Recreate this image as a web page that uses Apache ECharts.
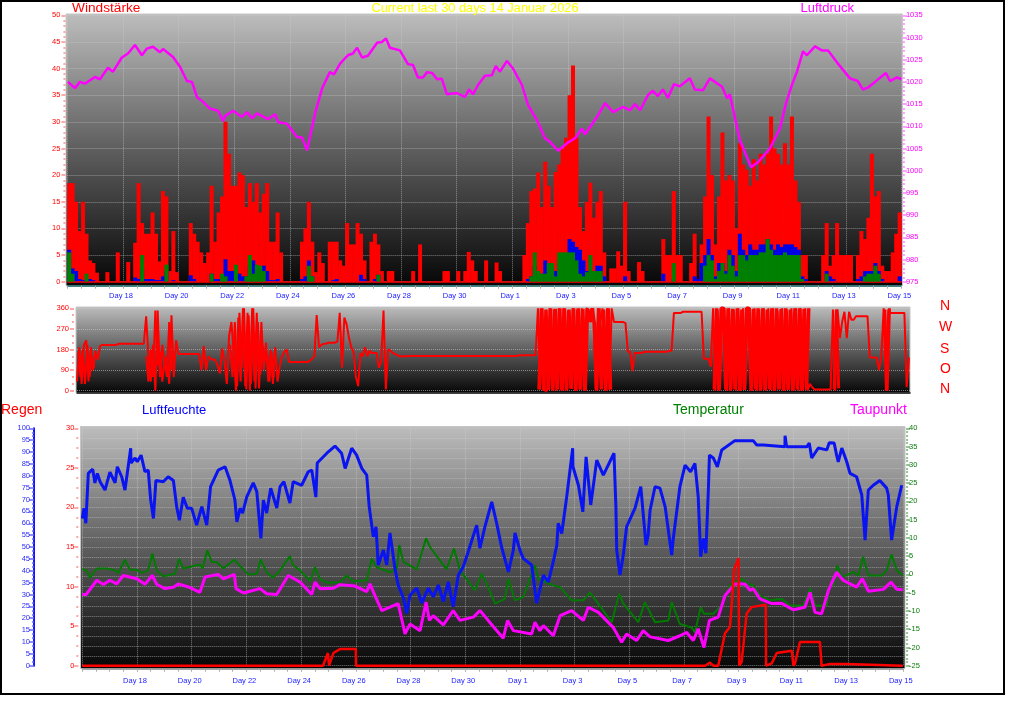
<!DOCTYPE html>
<html>
<head>
<meta charset="utf-8">
<style>html,body{margin:0;padding:0;background:#fff}#c{width:1024px;height:705px}</style>
<script src="https://cdn.jsdelivr.net/npm/echarts@6/dist/echarts.min.js"></script>
</head>
<body>
<div id="c"></div>
<script>
// ---------- tick labels ----------
const dayLabels = ['Day 18','Day 20','Day 22','Day 24','Day 26','Day 28','Day 30','Day 1','Day 3','Day 5','Day 7','Day 9','Day 11','Day 13','Day 15'];
const compassLabels = ['N','W','S','O','N'];

// ---------- wind, 8 readings per day ----------
const windGust = [
18.5,18.5,15,9.5,15,9,4,3.5,
1.7,0,0,1.8,0,0,5.5,0,
0,3.7,0,7.3,18.5,11,9,9,
13,9,3.8,17,16,2,9.5,1.8,
0,0,0,11,9,7.5,5.5,3.5,
5.5,18,7.5,13,16,30,24,18,
18,20.5,20,14,18.5,15,18.5,13,
16.5,18.5,7.5,7.5,13,5.5,0,0,
0,0,0,7.5,10,15,7.5,1.8,
5.5,3.5,0,7.5,7.5,7.5,4,3,
11,7,7,11,9,4,0,7.5,
9,7,2,0,2,2,0,0,
0,0,0,2,0,7,0,0,
0,0,0,0,2,2,0,0,
2,0,2,5.6,4,2,0,0,
4,0,0,3.6,2,0,0,0,
0,0,0,5,11,17,17.5,20.5,
14,22.5,18,14,20.6,22,25,27,
35,40.6,27,14,9.5,15,18.6,12,
15,17,5.5,0,2.5,2.5,5.7,3,
15,2,0,0,3.7,2,0,0,
0,0,0,8,5,5,17,5,
5,0,0,3.5,9,0,7,16,
31,20,7,16,28,19,20,19,
10,26,22,21,18,23,19,24,
22,24,31,25,24,22,26,22,
31,19,15,5,5,0,0,0,
0,5,11,3,5,11,5,5,
5,5,0,5,9.5,8,12,24,
16,17,3,2,2,5.5,9,13];
const windAvg = [
6,2.5,2,.5,.3,.3,.5,.3,
0,0,0,0,0,0,0,0,
0,0,0,.8,.5,2.5,.5,.5,
.5,.3,.3,1,2,0,.3,0,
0,0,0,1.2,.5,0,0,0,
0,1.5,.5,.5,1,4.2,2,2,
1,1.5,1,1,3,4,2.8,1.5,
3,2,.3,.3,.5,0,0,0,
0,0,0,.5,1,4,1,0,
0,0,0,0,.3,.5,0,0,
0,0,0,0,1.3,.5,0,0,
.5,1.3,0,0,0,0,0,0,
0,0,0,0,0,0,0,0,
0,0,0,0,0,0,0,0,
0,0,0,0,0,0,0,0,
0,0,0,0,0,0,0,0,
0,0,0,0,.5,1,3,1.5,
1.5,4,2.5,1.5,2,3.5,2.5,4,
8,7.5,6.5,6,4,2,1,1,
3,3,1,0,0,0,0,0,
1,0,0,0,0,0,0,0,
0,0,0,1.5,0,0,.5,0,
0,0,0,0,1,.5,3.5,5,
8,5,1,3.5,3.5,2,6,5,
2,9,6,5,7,6,6,7,
7,8,7,6,7,6.5,7,7,
7,6.5,6,1,.5,0,0,0,
0,0,2,1,.5,0,0,0,
0,0,0,.5,1,2,2,2,
3.5,2,.5,0,0,0,0,1];
const windMin = [
5.5,1.5,0,0,0,1.5,0,0,
0,0,0,0,0,0,0,0,
0,0,0,0,0,5,0,0,
0,0,0,0,3.2,0,0,0,
0,0,0,0,0,0,0,0,
0,1.5,0,0,1.5,1,0,0,
3.2,0,0,1,5,1.5,3.2,3,
2,0,0,0,0,0,0,0,
0,0,0,0,0,3,1,0,
0,0,0,0,0,0,0,0,
0,0,0,0,0,0,0,0,
0,1.3,0,0,0,0,0,0,
0,0,0,0,0,0,0,0,
0,0,0,0,0,0,0,0,
0,0,0,0,0,0,0,0,
0,0,0,0,0,0,0,0,
0,0,0,0,0,1,5.5,2,
1.5,1.5,3.5,3.5,1,5.5,5.5,5.5,
5.5,5.5,4,1.5,1,1.8,5,2,
2,2,0,0,0,0,0,0,
0,0,0,0,0,0,0,0,
0,0,0,0,0,0,3.5,0,
0,0,0,0,0,0,0,3,
5,4,.5,2,3.5,1.5,5,3,
1,5,5,4,5,5,5,5.5,
5.5,8,6,5,5,5,5.5,5,
5,5,5,.5,0,0,0,0,
0,0,1.5,0,0,0,0,0,
0,0,0,0,0,1,1.5,1.5,
3,1.5,0,0,0,0,0,0];

// ---------- pressure ----------
const pressureDays = [0.02,.27,.45,.63,.99,1.17,1.46,1.64,1.96,2.18,2.43,2.68,2.86,3.08,3.33,3.44,3.80,4.05,4.30,4.48,4.66,4.88,5.13,5.42,5.60,5.67,5.96,6.28,6.46,6.64,6.82,7.21,7.47,7.58,7.90,8.26,8.44,8.62,8.91,9.16,9.44,9.59,9.81,10.09,10.27,10.42,10.60,10.81,11.14,11.32,11.46,11.60,11.96,12.25,12.43,12.61,12.79,12.94,13.12,13.30,13.47,13.65,14.01,14.30,14.45,14.59,14.77,15.02,15.27,15.41,15.56,15.81,16.03,16.35,16.57,16.89,17.18,17.36,17.65,17.97,18.26,18.51,18.62,19.09,19.34,19.63,19.99,20.24,20.42,20.60,20.88,21.06,21.24,21.42,21.60,21.82,22.03,22.39,22.57,22.86,23.11,23.55,23.73,23.83,24.01,24.19,24.59,24.84,25.27,25.63,25.85,26.06,26.24,26.46,26.60,26.89,27.14,27.36,27.68,28.15,28.43,28.61,28.79,29.05,29.44,29.59,29.84,30];
const pressureValues = [1020,1018.6,1020,1019.6,1021.1,1020.6,1023.2,1022.3,1025.5,1026.4,1028.3,1026,1027.5,1027.9,1026.7,1027.4,1025.6,1023.4,1020.2,1020,1016.6,1015.5,1014,1013.5,1011.2,1012.3,1013.5,1012.1,1013.2,1011.8,1012.9,1011.6,1012.7,1010.9,1010.6,1007.6,1007.5,1004.6,1012.9,1018.5,1022.2,1021.7,1024.1,1026,1026.4,1027.7,1025.5,1025.9,1028.8,1029,1029.8,1027.7,1027.1,1024,1023.8,1021,1021,1022.2,1022,1020.6,1020.7,1017.2,1017.5,1016.6,1018.3,1017.2,1019.3,1021.4,1021.5,1023.6,1022.3,1024.7,1023,1019.3,1014.8,1011.4,1007.3,1006.5,1004.5,1006.2,1007.3,1009.5,1008.2,1012.5,1015.2,1013.2,1014.4,1013.6,1015,1013.6,1017,1018,1016.8,1018.3,1016.4,1019.5,1019,1020.8,1018.3,1018.1,1020.8,1018.9,1016.3,1017.2,1012,1006.9,1000.8,1001.9,1005,1009.5,1015.2,1019.3,1022.2,1026.9,1026,1028,1027.1,1027.1,1024.4,1020.8,1020.2,1018.3,1018.7,1020,1022,1020.2,1021,1020.6];

// ---------- wind direction, 12 readings per day ----------
const windDirection = [
40,190,30,200,220,40,190,90,175,135,195,200,
200,200,200,200,200,200,205,205,205,205,205,205,
205,205,205,205,205,205,325,150,40,200,0,350,
60,200,120,150,30,330,60,220,160,160,160,160,
160,160,160,160,160,160,90,195,90,150,140,135,
135,110,75,185,130,30,240,300,160,0,320,40,
360,20,340,0,360,40,340,10,300,90,210,40,
180,30,190,40,110,150,170,180,125,125,125,125,
125,125,125,125,125,130,140,150,330,190,200,205,
205,210,210,210,210,215,340,100,320,290,230,190,
170,60,20,165,150,190,150,175,165,165,165,100,
130,350,5,180,175,165,160,155,150,150,150,150,
152,152,152,152,152,152,152,152,152,152,152,152,
152,152,152,152,152,152,152,152,152,152,152,152,
152,152,152,152,152,152,152,152,152,152,152,152,
152,152,152,152,152,152,152,152,152,152,152,152,
155,155,155,155,155,155,155,155,360,5,360,0,
0,360,8,355,0,360,5,360,0,350,12,360,
0,355,5,360,0,360,355,300,360,5,360,300,
360,0,360,3,360,300,300,300,300,300,295,170,
170,85,165,165,165,165,170,170,170,170,170,170,
170,170,170,170,170,175,175,340,340,340,340,345,
345,345,345,345,345,345,345,345,140,140,140,105,
360,0,355,5,360,360,0,360,5,355,0,360,
0,360,5,360,360,0,360,0,355,5,360,0,
360,3,360,0,350,5,360,0,355,8,360,0,
360,0,360,3,360,0,30,15,5,5,5,5,
5,5,5,5,355,0,355,230,300,345,230,345,
310,310,325,325,325,325,325,325,145,145,145,145,
90,150,360,0,355,340,340,340,340,340,340,340,
15,145];
// the direction swings faster than 12 readings a day in these stretches: extra readings between the regular ones
const directionBursts = [
  {start: 0.04, width: 2, values: [170,60,180,30,200,60,150,100]},
  {start: 2.5, width: 2, values: [150,40,180,60,350,110,170,40,130,60,300,90]},
  {start: 5.54, width: 2, values: [200,60,300,20,340,100,360,5,330,30,360,10,300,70,200,130,160,40,170,60]},
  {start: 16.708, width: 3.5, values: [5,360,0,355,3,360,0,358,6,360,0,360,2,355,8,360,0,360,4,358,0,355,300,360,290,0,360,5,355,0,360,5]},
  {start: 23.042, width: 3.5, values: [5,360,0,360,360,4,360,0,358,6,360,0,355,3,360,360,0,358,5,360,0,360,2,355,6,360,0,360,5,358,0,360,3,355,0,360,6,360,0,358,4,360]},
  {start: 27.375, width: 3, values: [5,355,10]},
  {start: 29.21, width: 3, values: [355,0,360]}
];

// ---------- humidity ----------
const humidityDays = [0,.06,.13,.22,.38,.46,.55,.65,.83,1.01,1.20,1.28,1.44,1.56,1.77,1.78,1.93,2.01,2.15,2.29,2.41,2.50,2.60,2.69,2.96,3.14,3.33,3.45,3.55,3.69,3.84,4.00,4.18,4.37,4.55,4.69,4.97,5.22,5.40,5.58,5.65,5.77,5.86,6.01,6.25,6.38,6.53,6.62,6.74,6.89,7.11,7.23,7.37,7.59,7.71,8.02,8.26,8.39,8.54,8.59,8.94,9.24,9.48,9.61,9.85,10.03,10.22,10.40,10.49,10.64,10.74,10.82,11.01,11.13,11.25,11.43,11.55,11.74,11.86,11.98,12.23,12.41,12.65,12.83,13.02,13.20,13.38,13.56,13.75,13.93,14.11,14.42,14.54,14.72,14.97,15.15,15.33,15.58,15.76,15.82,16.00,16.12,16.43,16.61,16.86,17.04,17.22,17.35,17.40,17.53,17.71,17.93,17.94,18.14,18.30,18.42,18.59,18.81,19.05,19.44,19.51,19.54,19.66,19.78,19.90,20.21,20.42,20.61,20.69,20.76,20.94,21.12,21.31,21.55,21.61,21.85,22.04,22.24,22.40,22.52,22.61,22.71,22.80,22.89,22.93,23.07,23.22,23.38,23.86,24.53,24.66,24.90,25.69,25.695,25.75,26.49,26.58,26.67,26.91,27.22,27.31,27.49,27.58,27.64,27.77,27.95,28.07,28.31,28.50,28.62,28.74,28.92,29.16,29.41,29.47,29.59,29.78,29.96];
const humidityValues = [62,66.3,60,81,82.8,77,81,77.5,74,81.5,77,83.8,79.6,74,91.6,85.4,87.5,85.9,88.7,81.7,82.4,69.8,62,78,77.5,79.6,78,67,61.3,71,66.3,66.3,59.2,67,59.2,75.4,82.4,83.8,78,69.8,60.6,66.3,64.3,71,77,73.3,53.6,69.8,64.3,74.8,66.4,75.4,77.5,68.5,77.5,76,81.7,82.4,71,85.4,89.5,92.5,89.5,83.1,91.6,88.7,83.1,80.3,67,54.3,58.5,42.4,48.7,42.4,55.9,41,34,28.5,22,29.7,32.7,26.4,32.7,29,34,27,35.3,24.8,38.2,41.7,48,59.2,49.5,58.5,69,60,50,39.5,48.7,55.9,48.7,45.2,42.4,26.4,38.2,35.3,43.8,50.8,60,55.7,71,91.6,83.8,76,64.8,88,67.7,86.6,80.3,89.5,67,48.7,38.2,46.6,58.5,66.4,75.4,50.8,55,65.5,75.4,74.8,67,46.6,53.8,75.4,84.5,81.7,85.2,71,45.9,53.6,47.4,74,88.7,87.5,83.8,90.9,94.8,94.8,93,93,92.2,96.9,92.2,92.2,93.8,87.5,91.7,90.9,93.9,93.8,88.7,85.9,91.7,85.9,81,79.6,71.9,52.9,74,76,78,74.8,71.9,52.9,67,76];

// ---------- temperature ----------
const temperatureDays = [0,.16,.28,.53,.89,1.20,1.32,1.56,1.74,1.99,2.17,2.41,2.56,2.72,2.96,3.39,3.54,3.69,4.30,4.40,4.57,4.73,4.91,5.16,5.56,5.83,6.07,6.38,6.52,6.74,6.98,7.23,7.59,7.71,7.96,8.33,8.51,8.69,8.99,9.42,9.67,9.91,10.40,10.58,10.76,11.25,11.50,11.59,11.74,12.23,12.57,12.71,13.32,13.59,13.81,14.36,14.60,14.79,15.09,15.45,15.58,15.82,16.12,16.55,16.67,17.22,17.47,17.89,18.32,18.56,19.36,19.63,19.78,20.33,20.57,20.94,21.43,21.55,21.85,22.04,22.29,22.40,22.61,22.73,23.07,23.38,23.68,24.11,24.35,24.53,24.78,25.14,25.57,25.88,26.36,26.61,26.79,27.22,27.31,27.46,27.60,27.77,28.19,28.37,28.55,28.74,29.23,29.41,29.59,29.78,30];
const temperatureValues = [1.4,1.1,-.9,1.6,1.6,1.1,.4,4,1.3,1.3,.4,1.1,5.7,1.1,-.5,.2,4.3,1.6,2.7,1.6,6.6,3.4,3.4,1.7,4,1.8,0,.2,4.1,.6,-.9,1.1,5,2.5,1.1,-1.8,2,-1.2,-2.3,-2.1,-.3,-1.9,-1.6,4.3,2,.6,1.6,8,3.4,1.4,9.9,7.5,1.4,7.1,1.1,-4.4,.2,-2.6,-8,-6.7,-1.2,-7.1,-6.2,2.5,-1.2,-3,-3.5,-7.1,-7.1,-4.9,-13.1,-5.3,-8,-13.1,-7.6,-13.1,-12.6,-7.6,-13.6,-14,-14.6,-15.9,-9,-10.8,-10.8,-8.5,-3,-1.2,-2.6,-3,-5.8,-7.1,-6.7,-8.5,-8.5,-3.9,-8.5,-8.5,-3,-3,2.5,-.7,.6,-.3,4.8,-.3,-.3,1.1,5.5,1.1,-.3];

// ---------- dew point ----------
const dewPointDays = [0,.14,.53,.77,1.01,1.26,1.50,1.99,2.29,2.56,2.72,3.02,3.33,3.51,3.94,4.30,4.49,4.97,5.16,5.56,5.62,5.89,6.50,6.74,7.11,7.53,7.96,8.39,8.51,8.69,9.18,9.42,9.97,10.40,10.52,10.70,10.95,11.55,11.80,11.98,12.35,12.57,12.69,12.83,13.20,13.56,13.81,14.30,14.54,14.84,15.39,15.55,15.76,16.43,16.55,16.73,16.86,17.22,17.47,17.89,18.32,18.50,18.87,19.41,19.72,19.90,20.27,20.51,20.76,21.43,21.85,22.10,22.34,22.52,22.73,22.93,23.25,23.50,23.86,24.23,24.41,24.53,24.78,25.21,25.57,26.00,26.42,26.61,26.79,27.03,27.28,27.58,27.82,28.31,28.52,28.74,29.29,29.57,29.78,30];
const dewPointValues = [-5.5,-5.5,-1.6,-2.8,-1.6,-2.6,-.3,-1.2,-2.7,-.3,-2.7,-3.9,-3.5,-2.6,-3.6,-4.9,-.7,0,-1.2,0,-3.9,-5.1,-3.9,-5.3,-5.5,-.3,-2.1,-5.5,-2.1,-3.9,-3.8,-2.8,-3.2,-4.7,-2.6,-5.8,-9.9,-8,-16.3,-13.6,-15.4,-7.6,-12.6,-11.3,-13.8,-9.9,-12.6,-11.7,-9.9,-12.6,-17.5,-12.6,-15.4,-16.3,-13.1,-15.4,-14,-16.8,-11.3,-9.9,-12.6,-9,-10.4,-14.5,-18.6,-16.3,-18.1,-15.4,-17.1,-18.1,-16.8,-15.9,-18.1,-14.9,-20,-12.6,-11.7,-5.8,-2.6,-2.6,-4.4,-3.9,-6.7,-8,-7.9,-9.7,-9,-4.9,-10.4,-10.8,-4.4,.6,-1.6,-3.5,-1.2,-4.6,-4.1,-2.1,-4.1,-4.2];

// ---------- rain ----------
const rainDays = [0,8.80,8.98,9.02,9.18,9.42,10.0,10.01,22.77,22.95,23.07,23.25,23.50,23.68,23.74,23.83,23.99,24.02,24.11,24.29,24.47,24.99,25.0,25.21,25.39,25.94,26.0,26.06,26.24,26.97,27.03,27.30,27.95,28.01,30];
const rainValues = [0,0,1.6,0,1.6,2.1,2.1,0,0,.4,0,0,4.1,4.9,7.5,12.1,13.6,0,.5,6.6,7.4,7.7,0,.3,1.6,1.9,0,.3,3,3,0,.2,.2,0,0];

const zip = (xs, ys) => xs.map((x, i) => [x, ys[i]]);
const FONT = '"Liberation Sans", Arial, sans-serif';
const panelFill = () => new echarts.graphic.LinearGradient(0, 0, 0, 1, [
  {offset: 0, color: '#bdbdbd'}, {offset: .5, color: '#5e5e5e'}, {offset: 1, color: '#060606'}]);
const panel = (x, y, w, h) => ({type: 'rect', z: -10, shape: {x, y, width: w, height: h},
  style: {fill: panelFill(), stroke: '#c6c6c6', lineWidth: 1}});
const caption = (text, x, y, fill, size) => ({type: 'text', z: 50, x, y,
  style: {text, fill, font: (size || 14) + 'px ' + FONT, verticalAlign: 'middle', align: 'left'}});

const dotted = {show: true, lineStyle: {type: 'dotted', color: 'rgba(205,205,205,.55)', width: 1}};

function timeAxis(gridIndex, max, offset, showLabels, lineColor, margin) {
  return {type: 'value', gridIndex, min: 0, max, interval: 2, position: 'bottom', offset,
    axisLine: {show: true, onZero: false, lineStyle: {color: lineColor, width: 1.5}},
    axisTick: {show: showLabels, length: 3, lineStyle: {color: '#aaa'}},
    minorTick: {show: showLabels, splitNumber: 4, length: 3, lineStyle: {color: '#aaa'}},
    splitLine: showLabels ? dotted : {show: false},
    axisLabel: {show: showLabels, color: '#1a1aff', fontSize: 7.5, fontFamily: FONT, margin, showMinLabel: false,
      padding: [0, 4, 0, 0], formatter: v => dayLabels[v / 2 - 1] || ''}};
}
function valueAxis(o) {
  return {type: 'value', gridIndex: o.grid, position: o.pos, min: o.min, max: o.max, interval: o.step, offset: o.offset,
    axisLine: {show: !!o.line, onZero: false, lineStyle: {color: o.line, width: 2}},
    axisTick: {show: true, length: o.tick || 4, lineStyle: {color: o.tickColor, width: 1.5}},
    minorTick: {show: true, splitNumber: o.minor, length: 2, lineStyle: {color: o.tickColor, width: 1.5}},
    splitLine: o.split ? dotted : {show: false},
    minorSplitLine: o.minorSplit ? dotted : {show: false},
    axisLabel: {color: o.color, fontSize: 7.5, fontFamily: FONT, margin: o.margin, formatter: v => String(v)}};
}
const lineSeries = (x, y, data, color, width, z) => ({type: 'line', xAxisIndex: x, yAxisIndex: y, data, clip: false,
  symbol: 'none', showSymbol: false, z, lineStyle: {color, width}, itemStyle: {color}, animation: false, silent: true});
const barSeries = (values, color, z, extra) => Object.assign({type: 'bar', xAxisIndex: 0, yAxisIndex: 0,
  data: values.map((v, i) => [(i + .5) / 8, v]), barWidth: 4, barGap: '-100%', z, itemStyle: {color}, silent: true, animation: false}, extra || {});

const chart = echarts.init(document.getElementById('c'), null, {renderer: 'canvas'});
chart.setOption({
  animation: false,
  backgroundColor: '#fff',
  grid: [
    {left: 67.4, top: 15.3, width: 834, height: 266.4},
    {left: 77, top: 308.3, width: 833, height: 82.4},
    {left: 82.3, top: 428.3, width: 820.5, height: 237.4}
  ],
  xAxis: [timeAxis(0, 30, 4, true, '#0b5a5a', 6), timeAxis(1, 30.12, 2, false, '#000', 5), timeAxis(2, 30, 3, true, '#888', 8)],
  yAxis: [
    valueAxis({grid: 0, pos: 'left', min: 0, max: 50, step: 5, minor: 5, offset: 2, margin: 5, color: '#f00', tickColor: '#ff8a8a', split: true}),
    valueAxis({grid: 0, pos: 'right', min: 975, max: 1035, step: 5, minor: 5, offset: 1.5, margin: 3, color: '#f0f', tickColor: '#ff80ff'}),
    valueAxis({grid: 1, pos: 'left', min: 0, max: 360, step: 90, minor: 3, offset: 3, margin: 5, color: '#f00', tickColor: '#ff8a8a', split: true}),
    valueAxis({grid: 2, pos: 'left', min: 0, max: 30, step: 5, minor: 4, offset: 4, margin: 4, color: '#f00', tickColor: '#ff8a8a', split: true, minorSplit: true}),
    valueAxis({grid: 2, pos: 'right', min: -25, max: 40, step: 5, minor: 5, offset: 3.3, margin: 3, color: '#0a7a0a', tickColor: '#70b070'}),
    valueAxis({grid: 2, pos: 'left', min: 0, max: 100, step: 5, minor: 3, offset: 48.3, margin: 4, tick: 5, color: '#2a2aff', tickColor: '#6a6aff', line: '#1414ff'})
  ],
  series: [
    barSeries(windGust, '#f00', 3, {markLine: {silent: true, symbol: 'none', label: {show: false}, animation: false,
      lineStyle: {color: '#f00', type: 'solid', width: 1.5}, data: [{yAxis: 0}]}}),
    barSeries(windAvg, '#0000e6', 4),
    barSeries(windMin, '#008000', 5),
    lineSeries(0, 1, zip(pressureDays, pressureValues), '#f0f', 2.5, 6),
    lineSeries(1, 2, windDirection.map((v, i) => [i / 12, v]), '#f00', 2, 3),
    ...directionBursts.map(b => lineSeries(1, 2, b.values.map((v, i) => [b.start + i / 12, v]), '#f00', b.width, 3)),
    lineSeries(2, 4, zip(temperatureDays, temperatureValues), '#007a00', 2, 3),
    lineSeries(2, 4, zip(dewPointDays, dewPointValues), '#f0f', 3, 4),
    lineSeries(2, 5, zip(humidityDays, humidityValues), '#0a14f0', 3, 5),
    lineSeries(2, 3, zip(rainDays, rainValues), '#f00', 2.5, 6)
  ],
  graphic: {elements: [
    panel(66, 14, 836.5, 271.5),
    panel(76, 307, 834, 85.5),
    panel(80.5, 426.5, 824.5, 242),
    {type: 'rect', z: 60, shape: {x: 1, y: 1, width: 1003, height: 693}, style: {fill: 'none', stroke: '#000', lineWidth: 2}},
    caption('Windstärke', 72, 8, '#f00', 13.7),
    caption('Current last 30 days 14 Januar 2026', 371.5, 8, '#ffff00', 12.8),
    caption('Luftdruck', 800.5, 8, '#f0f', 13),
    caption('Regen', 1, 410, '#f00'),
    caption('Luftfeuchte', 142, 410, '#00f', 13),
    caption('Temperatur', 673, 410, '#008000'),
    caption('Taupunkt', 850, 410, '#f0f'),
    caption(compassLabels[0], 940, 306, '#f00'),
    caption(compassLabels[1], 939, 327, '#f00'),
    caption(compassLabels[2], 940, 349, '#f00'),
    caption(compassLabels[3], 940, 369, '#f00'),
    caption(compassLabels[4], 940, 389, '#f00')
  ]}
});
</script>
</body>
</html>
